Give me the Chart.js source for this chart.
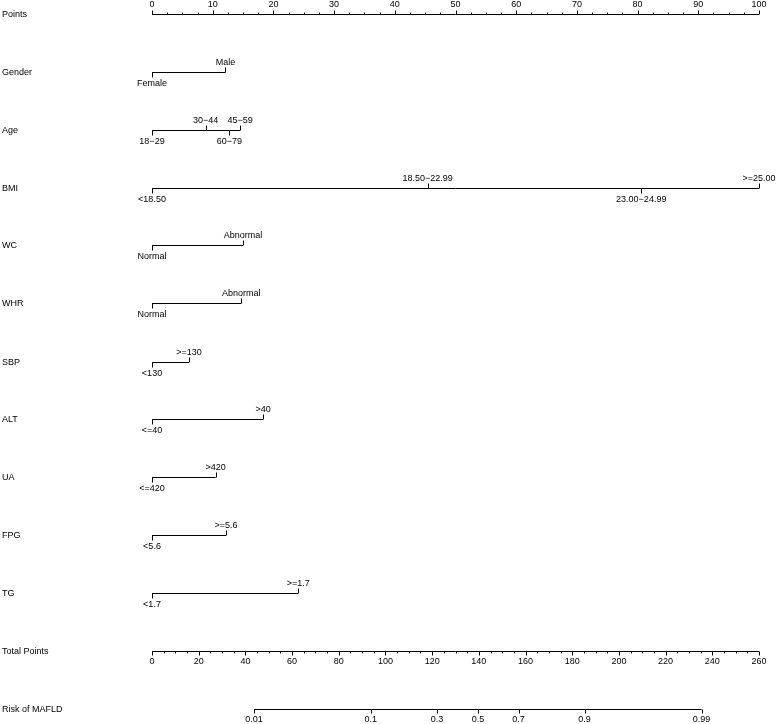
<!DOCTYPE html>
<html>
<head>
<meta charset="utf-8">
<script src="https://cdn.jsdelivr.net/npm/chart.js@4"></script>
<style>
  body { margin: 0; background: #fff; }
  canvas { display: block; }
</style>
</head>
<body>
<canvas id="nomogram" width="777" height="724"></canvas>
<script>
// Points scale (top)
const pointTicks = [0, 10, 20, 30, 40, 50, 60, 70, 80, 90, 100];
const pointMinorStep = 2.5;

// Predictors: level labels and the points for each level
const genderLevels = ['Female', 'Male'];
const genderPoints = [0, 12.1];
const ageLevels = ['18\u221229', '30\u221244', '45\u221259', '60\u221279'];
const agePoints = [0, 8.85, 14.5, 12.75];
const bmiLevels = ['<18.50', '18.50\u221222.99', '23.00\u221224.99', '>=25.00'];
const bmiPoints = [0, 45.4, 80.6, 100];
const wcLevels = ['Normal', 'Abnormal'];
const wcPoints = [0, 15.0];
const whrLevels = ['Normal', 'Abnormal'];
const whrPoints = [0, 14.7];
const sbpLevels = ['<130', '>=130'];
const sbpPoints = [0, 6.1];
const altLevels = ['<=40', '>40'];
const altPoints = [0, 18.3];
const uaLevels = ['<=420', '>420'];
const uaPoints = [0, 10.5];
const fpgLevels = ['<5.6', '>=5.6'];
const fpgPoints = [0, 12.2];
const tgLevels = ['<1.7', '>=1.7'];
const tgPoints = [0, 24.1];

// Total points scale
const totalTicks = [0, 20, 40, 60, 80, 100, 120, 140, 160, 180, 200, 220, 240, 260];
const totalMinorStep = 5;

// Risk scale: labels and where they sit on the total points scale
const riskLabels = ['0.01', '0.1', '0.3', '0.5', '0.7', '0.9', '0.99'];
const riskAtTotal = [43.7, 93.7, 122.1, 139.6, 157.0, 185.3, 235.4];

const predictors = [
  { name: 'Gender', levels: genderLevels, pts: genderPoints },
  { name: 'Age', levels: ageLevels, pts: agePoints },
  { name: 'BMI', levels: bmiLevels, pts: bmiPoints },
  { name: 'WC', levels: wcLevels, pts: wcPoints },
  { name: 'WHR', levels: whrLevels, pts: whrPoints },
  { name: 'SBP', levels: sbpLevels, pts: sbpPoints },
  { name: 'ALT', levels: altLevels, pts: altPoints },
  { name: 'UA', levels: uaLevels, pts: uaPoints },
  { name: 'FPG', levels: fpgLevels, pts: fpgPoints },
  { name: 'TG', levels: tgLevels, pts: tgPoints }
];

// vertical layout (y in canvas pixels, via a 0..724 y scale)
const pointsRowY = 14.5;
const predictorRowY = [72.5, 130.5, 188.5, 245.5, 303.5, 362.5, 419.5, 477.5, 535.5, 593.5];
const totalRowY = 651.5;
const riskRowY = 709.5;

const FONT = '9px "Liberation Sans", Arial, sans-serif';
const INK = '#000';

function seg(x0, x1, y, axis) {
  return {
    data: [{ x: x0, y: y }, { x: x1, y: y }],
    xAxisID: axis,
    showLine: true,
    borderColor: INK,
    borderWidth: 1,
    pointRadius: 0,
    pointHoverRadius: 0
  };
}

const datasets = [];
datasets.push(seg(pointTicks[0], pointTicks[pointTicks.length - 1], pointsRowY, 'x'));
predictors.forEach((p, i) => {
  datasets.push(seg(Math.min(...p.pts), Math.max(...p.pts), predictorRowY[i], 'x'));
});
datasets.push(seg(totalTicks[0], totalTicks[totalTicks.length - 1], totalRowY, 'x2'));
datasets.push(seg(riskAtTotal[0], riskAtTotal[riskAtTotal.length - 1], riskRowY, 'x2'));

function vtick(ctx, x, y, len) {
  const px = Math.round(x) + 0.5;
  ctx.beginPath();
  ctx.moveTo(px, y);
  ctx.lineTo(px, y + len);
  ctx.stroke();
}

const nomogramMarks = {
  id: 'nomogramMarks',
  afterDatasetsDraw(chart) {
    const ctx = chart.ctx;
    const xs = chart.scales.x, x2 = chart.scales.x2, ys = chart.scales.y;
    ctx.save();
    ctx.strokeStyle = INK;
    ctx.fillStyle = INK;
    ctx.lineWidth = 1;
    ctx.font = FONT;
    ctx.textBaseline = 'middle';

    // row names
    ctx.textAlign = 'left';
    const names = ['Points'].concat(predictors.map(p => p.name), ['Total Points', 'Risk of MAFLD']);
    const ysAll = [pointsRowY].concat(predictorRowY, [totalRowY, riskRowY]);
    names.forEach((n, i) => ctx.fillText(n, 2, ys.getPixelForValue(ysAll[i])));

    ctx.textAlign = 'center';
    // Points axis: ticks up, labels above
    let py = ys.getPixelForValue(pointsRowY);
    const pMax = pointTicks[pointTicks.length - 1];
    for (let v = 0; v <= pMax + 1e-9; v += pointMinorStep) {
      const major = pointTicks.includes(v);
      vtick(ctx, xs.getPixelForValue(v), py, major ? -4 : -2);
    }
    pointTicks.forEach(v => ctx.fillText(String(v), xs.getPixelForValue(v), py - 10));

    // predictors: label sides alternate in order of points
    predictors.forEach((p, i) => {
      const y = ys.getPixelForValue(predictorRowY[i]);
      const order = p.pts.map((v, k) => k).sort((a, b) => p.pts[a] - p.pts[b]);
      order.forEach((k, rank) => {
        const above = rank % 2 === 1;
        const x = xs.getPixelForValue(p.pts[k]);
        vtick(ctx, x, y, above ? -5 : 5);
        ctx.fillText(p.levels[k], x, above ? y - 10 : y + 11);
      });
    });

    // Total points: ticks down, labels below
    py = ys.getPixelForValue(totalRowY);
    const tMax = totalTicks[totalTicks.length - 1];
    for (let v = 0; v <= tMax + 1e-9; v += totalMinorStep) {
      const major = totalTicks.includes(v);
      vtick(ctx, x2.getPixelForValue(v), py, major ? 4 : 2);
    }
    totalTicks.forEach(v => ctx.fillText(String(v), x2.getPixelForValue(v), py + 10));

    // Risk axis
    py = ys.getPixelForValue(riskRowY);
    riskAtTotal.forEach((v, k) => {
      const x = x2.getPixelForValue(v);
      vtick(ctx, x, py, 4);
      ctx.fillText(riskLabels[k], x, py + 10);
    });
    ctx.restore();
  }
};

new Chart(document.getElementById('nomogram'), {
  type: 'scatter',
  data: { datasets: datasets },
  options: {
    responsive: false,
    animation: false,
    events: [],
    layout: { padding: { left: 152, right: 18, top: 0, bottom: 0 } },
    plugins: { legend: { display: false }, tooltip: { enabled: false } },
    scales: {
      x: { type: 'linear', min: 0, max: 100, display: false },
      x2: { type: 'linear', min: 0, max: 260, display: false },
      y: { type: 'linear', min: 0, max: 724, reverse: true, display: false }
    }
  },
  plugins: [nomogramMarks]
});
</script>
</body>
</html>
